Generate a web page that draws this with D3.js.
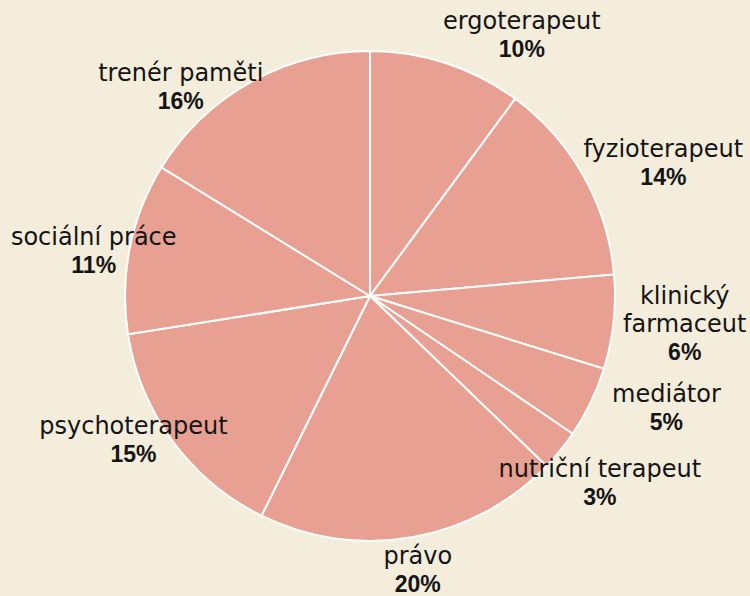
<!DOCTYPE html>
<html>
<head>
<meta charset="utf-8">
<script src="https://cdn.jsdelivr.net/npm/d3@7"></script>
<style>
  body { margin: 0; background: #f5eddc; }
  svg { display: block; }
  text { font-family: "DejaVu Sans", sans-serif; fill: #141414; }
  text.pct { font-family: "Liberation Sans", Arial, sans-serif; font-weight: bold; }
</style>
</head>
<body>
<svg id="chart" width="750" height="596"></svg>
<script>
// shares (percent), clockwise from 12 o'clock
const categories = ["ergoterapeut", "fyzioterapeut", "klinický farmaceut", "mediátor",
  "nutriční terapeut", "právo", "psychoterapeut", "sociální práce", "trenér paměti"];
const shares = [10.1, 13.5, 6.2, 4.7, 2.7, 20.1, 15.2, 11.3, 16.2];

// label layout: nudge in degrees from slice middle, distance from centre
const labelNudge = [12, 5, -1, -5, 0, 0, 5, -2, -13];
const labelRadius = [302, 322, 316, 317, 296, 278, 277, 280, 282];

const width = 750, height = 596;
const cx = 370, cy = 296, radius = 245;
const lineH = 28;

const svg = d3.select("#chart");
const g = svg.append("g").attr("transform", `translate(${cx},${cy})`);

const data = categories.map((c, i) => ({ name: c, value: shares[i], i: i }));
const total = d3.sum(shares);
const fmt = v => d3.format(".0f")(v / total * 100) + "%";

const pie = d3.pie().value(d => d.value).sort(null);
const arc = d3.arc().innerRadius(0).outerRadius(radius);
const arcs = pie(data);

g.selectAll("path.slice")
  .data(arcs)
  .enter().append("path")
    .attr("class", "slice")
    .attr("d", arc)
    .attr("fill", "#e8a093")
    .attr("stroke", "#ffffff")
    .attr("stroke-width", 2)
    .attr("stroke-linejoin", "round");

const labels = g.selectAll("g.label")
  .data(arcs)
  .enter().append("g")
    .attr("class", "label");

labels.each(function(d) {
  const sel = d3.select(this);
  const i = d.data.i;
  const mid = (d.startAngle + d.endAngle) / 2 + labelNudge[i] * Math.PI / 180;
  const r = labelRadius[i];
  const x = r * Math.sin(mid), y = -r * Math.cos(mid);

  // measure the name, wrap it if it would run off the page
  const probe = sel.append("text").attr("font-size", 24).text(d.data.name);
  const w = probe.node().getComputedTextLength();
  probe.remove();
  let lines = [d.data.name];
  if (cx + x + w / 2 > width - 2 || cx + x - w / 2 < 2) lines = d.data.name.split(" ");

  const all = lines.map(t => ({ t: t, bold: false })).concat([{ t: fmt(d.data.value), bold: true }]);
  const n = all.length;
  sel.selectAll("text")
    .data(all)
    .enter().append("text")
      .attr("class", l => l.bold ? "pct" : "name")
      .attr("x", x)
      .attr("y", (l, k) => y + (k - (n - 1) / 2) * lineH + 8)
      .attr("text-anchor", "middle")
      .attr("font-size", l => l.bold ? 23 : 24)
      .text(l => l.t);
});
</script>
</body>
</html>
